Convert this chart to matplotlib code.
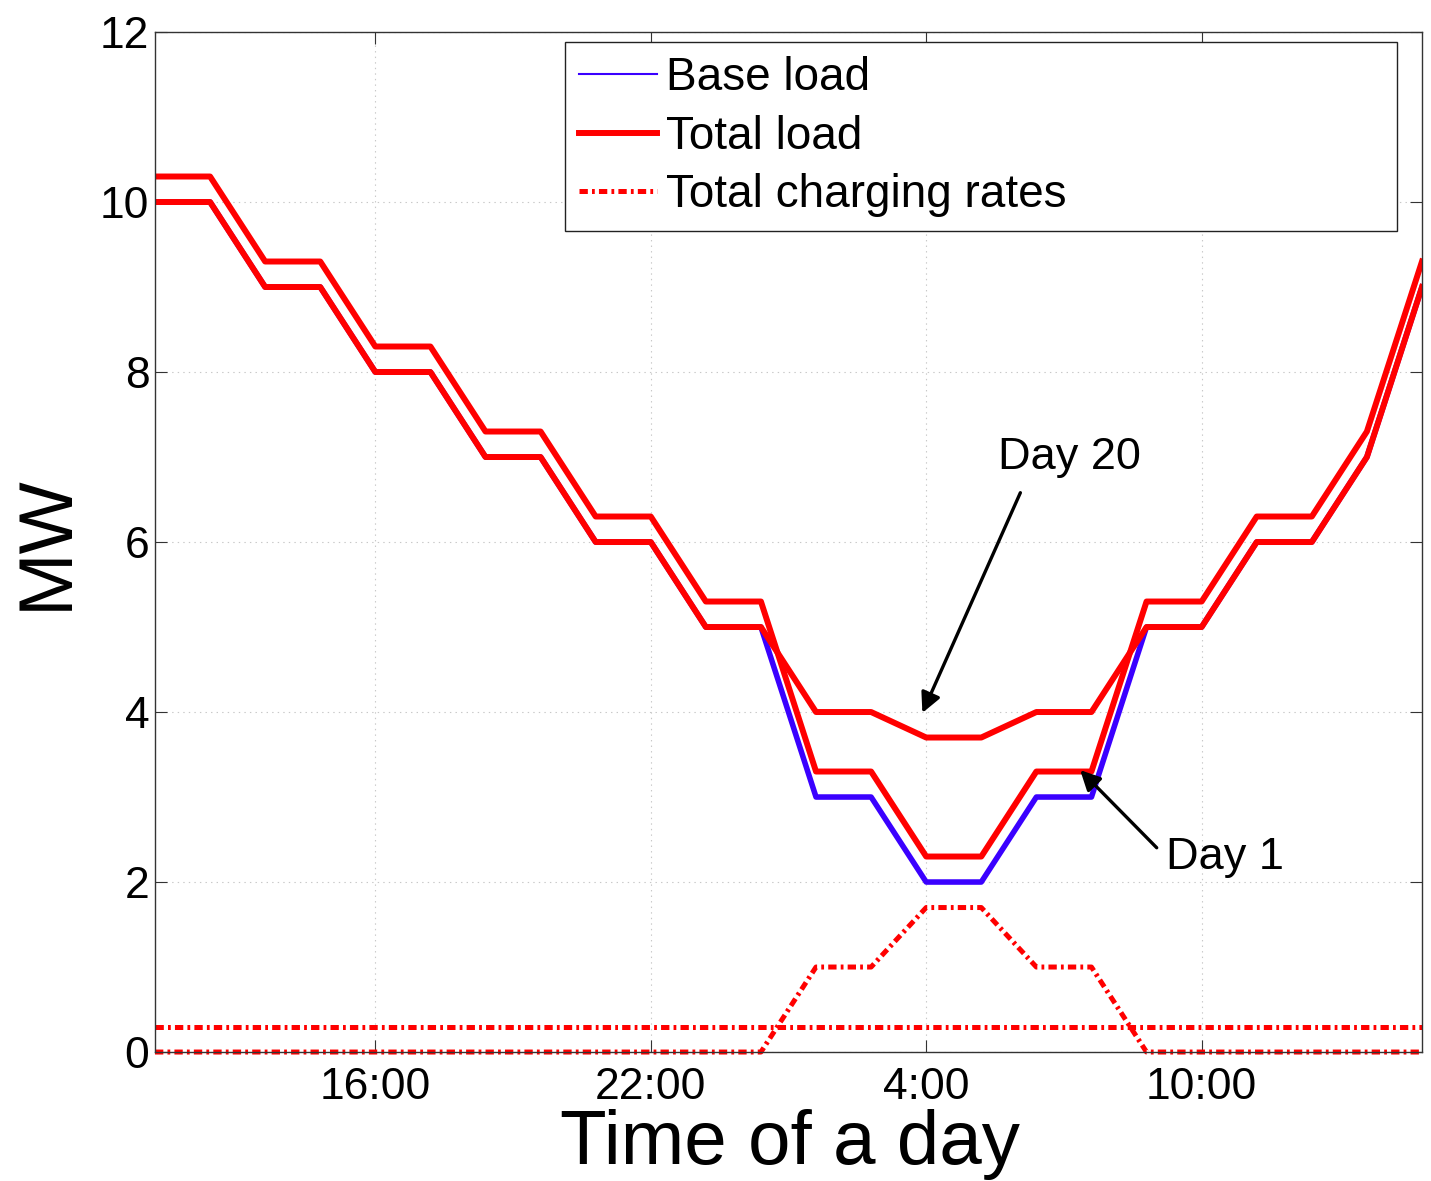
import numpy as np
import matplotlib
matplotlib.use("Agg")
import matplotlib.pyplot as plt

plt.rcParams['font.family'] = ['Liberation Sans', 'DejaVu Sans']
plt.rcParams['lines.scale_dashes'] = False

# time slots (72 min each), labelled every 5 slots
slots = list(range(1, 25))
tick_pos = [5, 10, 15, 20]
tick_labels = ['16:00', '22:00', '4:00', '10:00']

base_load = [10, 10, 9, 9, 8, 8, 7, 7, 6, 6, 5, 5, 3, 3, 2, 2, 3, 3, 5, 5, 6, 6, 7, 9]
total_day1 = [10.3, 10.3, 9.3, 9.3, 8.3, 8.3, 7.3, 7.3, 6.3, 6.3, 5.3, 5.3,
              3.3, 3.3, 2.3, 2.3, 3.3, 3.3, 5.3, 5.3, 6.3, 6.3, 7.3, 9.3]
total_day20 = [10, 10, 9, 9, 8, 8, 7, 7, 6, 6, 5, 5, 4, 4, 3.7, 3.7, 4, 4, 5, 5, 6, 6, 7, 9]
charge_day1 = [0.3, 0.3, 0.3, 0.3, 0.3, 0.3, 0.3, 0.3, 0.3, 0.3, 0.3, 0.3,
               0.3, 0.3, 0.3, 0.3, 0.3, 0.3, 0.3, 0.3, 0.3, 0.3, 0.3, 0.3]
charge_day20 = [0, 0, 0, 0, 0, 0, 0, 0, 0, 0, 0, 0, 1, 1, 1.7, 1.7, 1, 1, 0, 0, 0, 0, 0, 0]

BLUE = '#3a00ff'
RED = '#ff0000'
DASHDOT = (0, (6, 3, 2, 3))

fig = plt.figure(figsize=(14.31, 11.81), dpi=100)
ax = fig.add_axes([0.1083, 0.1092, 0.8854, 0.8637])

ax.plot(slots, base_load, color=BLUE, lw=4.0, label='Base load')
ax.plot(slots, total_day1, color=RED, lw=4.3, label='Total load')
ax.plot(slots, total_day20, color=RED, lw=4.3)
ax.plot(slots, charge_day1, color=RED, lw=3.6, ls=DASHDOT, label='Total charging rates')
ax.plot(slots, charge_day20, color=RED, lw=3.6, ls=DASHDOT, clip_on=False)

ax.set_xlim(1, 24)
ax.set_ylim(0, 12)
ax.set_xticks(tick_pos)
ax.set_xticklabels(tick_labels)
ax.set_yticks(range(0, 13, 2))
ax.tick_params(direction='in', length=8.5, width=0.8, top=True, right=True,
               labelsize=32, color='#333333')
ax.tick_params(axis='x', pad=11)
ax.tick_params(axis='y', pad=4)
for s in ax.spines.values():
    s.set_color('#333333')
    s.set_linewidth(1.0)
ax.grid(True, color='#c8c8c8', lw=0.8, ls=(0, (1, 3)))

ax.set_ylabel('MW', fontsize=55)
ax.yaxis.set_label_coords(-0.057, 0.5)
ax.set_xlabel('Time of a day', fontsize=55)
ax.xaxis.set_label_coords(0.501, -0.056)
ax.xaxis.label.set_va('top')

# annotations
ax.annotate('', xy=(14.91, 3.96), xytext=(16.73, 6.61),
            arrowprops=dict(arrowstyle='-|>', color='k', lw=2.4, mutation_scale=30))
ax.text(17.6, 7.0, 'Day 20', fontsize=32.5, ha='center', va='center')
ax.annotate('', xy=(17.76, 3.34), xytext=(19.22, 2.38),
            arrowprops=dict(arrowstyle='-|>', color='k', lw=2.4, mutation_scale=30))
ax.text(19.36, 2.29, 'Day 1', fontsize=32.5, ha='left', va='center')

leg = ax.legend(loc='upper left', bbox_to_anchor=(0.3236, 0.810, 0.6564, 0.180),
                mode='expand', borderaxespad=0, fontsize=33, handlelength=1.7,
                handletextpad=0.2, labelspacing=0.32, borderpad=0.3,
                fancybox=False, framealpha=1, edgecolor='#222222')
leg.get_frame().set_linewidth(1.0)
leg.get_lines()[0].set_linewidth(1.5)

fig.savefig('out.png', dpi=100)
